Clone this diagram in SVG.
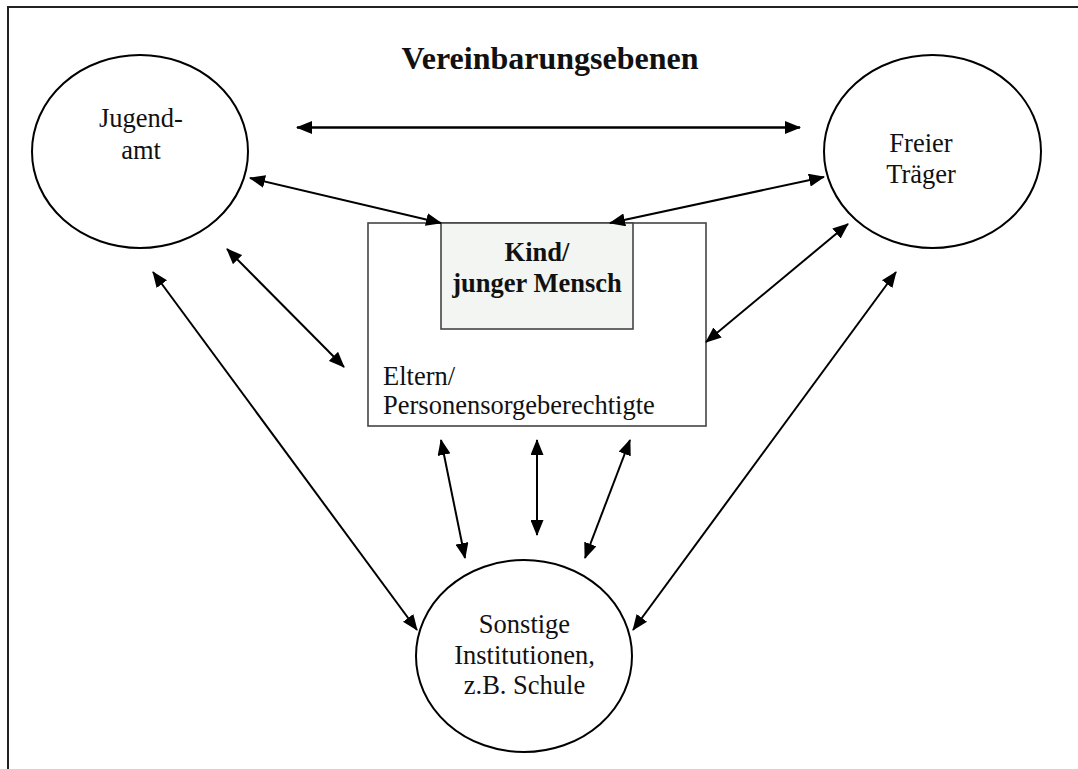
<svg xmlns="http://www.w3.org/2000/svg" width="1078" height="769" viewBox="0 0 1078 769">
<style>
.t{font-family:"Liberation Serif","Times New Roman",serif;font-size:26.5px;fill:#111}
.b{font-weight:bold}
.c{text-anchor:middle}
.el{fill:#fff;stroke:#000;stroke-width:2}
.ar{stroke:#000;stroke-width:2;fill:none;marker-start:url(#ah);marker-end:url(#ah)}
</style>
<defs>
<marker id="ah" viewBox="0 0 16 13" refX="15" refY="6.5" markerWidth="16" markerHeight="13" markerUnits="userSpaceOnUse" orient="auto-start-reverse">
<path d="M0,0 L16,6.5 L0,13 z" fill="#000"/>
</marker>
</defs>
<rect width="1078" height="769" fill="#fff"/>
<g id="frame">
<path d="M8,769 L8,7 L1078,7" fill="none" stroke="#222" stroke-width="2"/>
</g>
<g id="title">
<text class="t b c" x="550" y="69" style="font-size:32px">Vereinbarungsebenen</text>
</g>
<g id="jugendamt">
<ellipse class="el" cx="140" cy="151.5" rx="108" ry="96.5"/>
<text class="t c" x="141" y="127">Jugend-</text>
<text class="t c" x="141" y="159">amt</text>
</g>
<g id="freier-traeger">
<ellipse class="el" cx="932.5" cy="151.5" rx="108.5" ry="96.5"/>
<text class="t c" x="921" y="152">Freier</text>
<text class="t c" x="921" y="183">Träger</text>
</g>
<g id="eltern">
<rect x="368" y="223" width="338" height="203" fill="#fff" stroke="#444" stroke-width="1.6"/>
<text class="t" x="383" y="385">Eltern/</text>
<text class="t" x="383" y="414">Personensorgeberechtigte</text>
</g>
<g id="kind">
<rect x="441" y="223" width="192" height="106" fill="#f3f5f3" stroke="#444" stroke-width="1.6"/>
<text class="t b c" x="537" y="261">Kind/</text>
<text class="t b c" x="537" y="292">junger Mensch</text>
</g>
<g id="sonstige">
<ellipse class="el" cx="524" cy="656" rx="108" ry="96"/>
<text class="t c" x="524.5" y="633">Sonstige</text>
<text class="t c" x="524.5" y="664">Institutionen,</text>
<text class="t c" x="524.5" y="694">z.B. Schule</text>
</g>
<g id="connectors">
<line class="ar" x1="297" y1="127.5" x2="800" y2="127.5" style="stroke-width:2.5"/>
<line class="ar" x1="250" y1="178" x2="441" y2="223"/>
<line class="ar" x1="824" y1="177" x2="610" y2="223"/>
<line class="ar" x1="227" y1="249" x2="344" y2="367"/>
<line class="ar" x1="153" y1="272" x2="417" y2="630"/>
<line class="ar" x1="848" y1="224" x2="706" y2="342"/>
<line class="ar" x1="896" y1="272" x2="633" y2="630"/>
<line class="ar" x1="441" y1="440" x2="465" y2="558"/>
<line class="ar" x1="537" y1="440" x2="537" y2="535"/>
<line class="ar" x1="630" y1="440" x2="585" y2="558"/>
</g>
</svg>
